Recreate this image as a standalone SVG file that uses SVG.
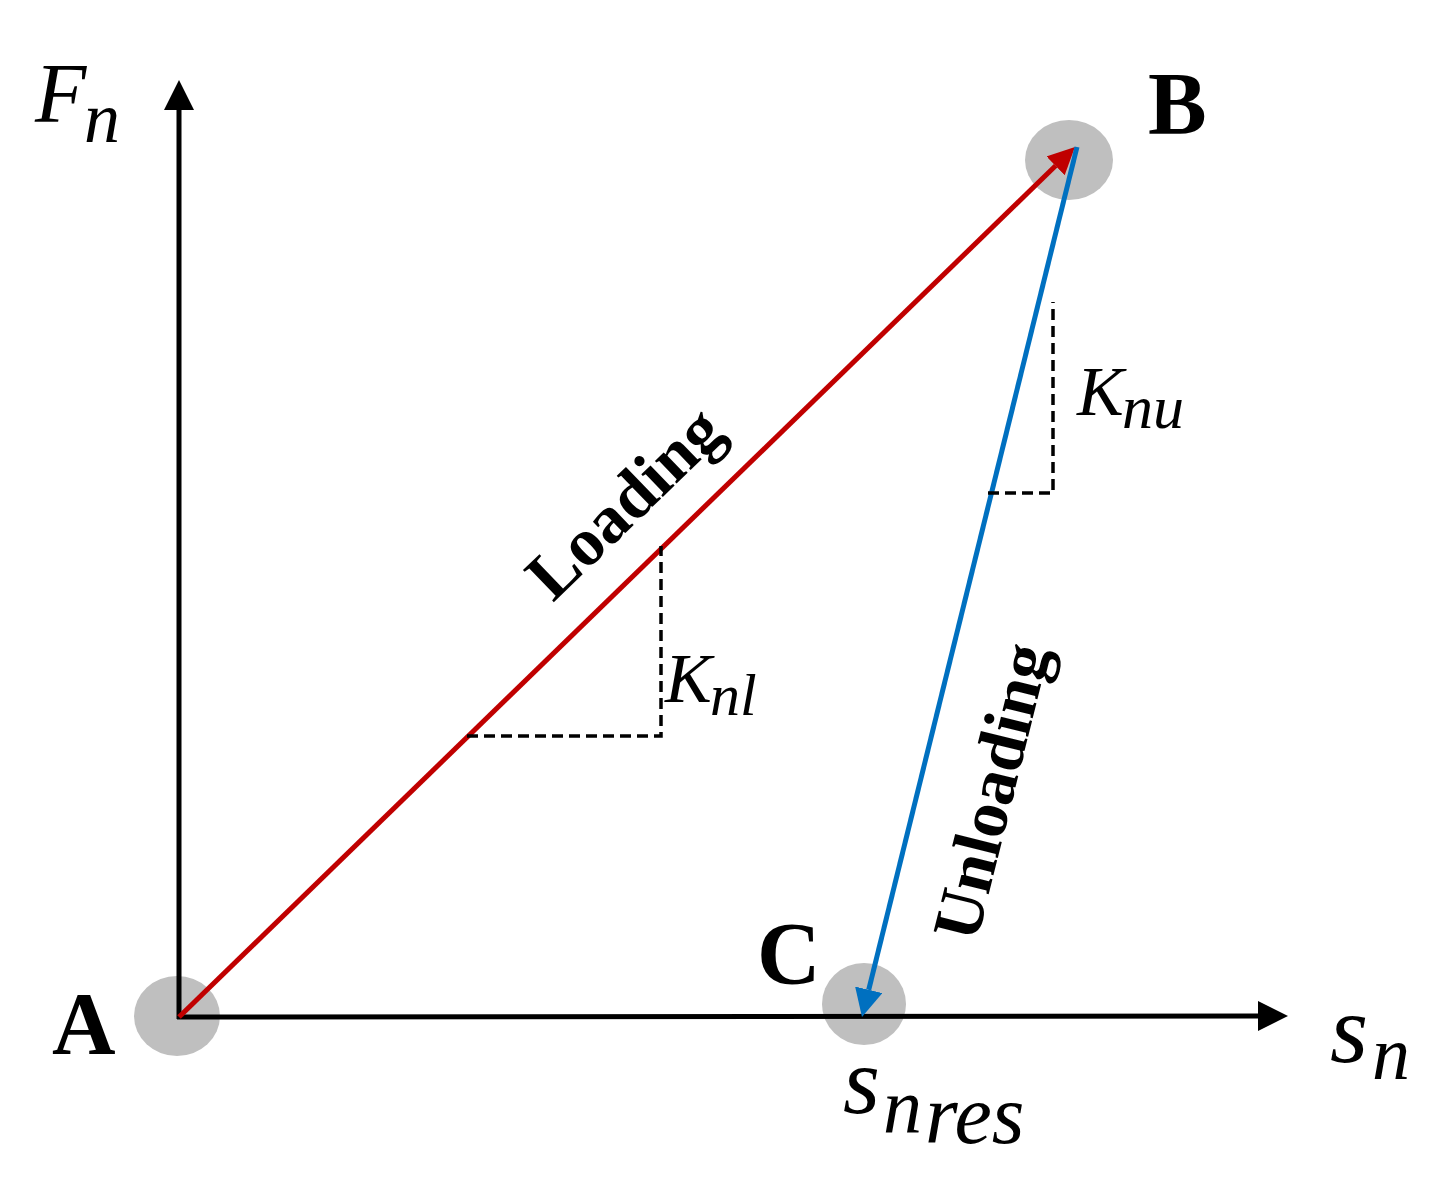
<svg xmlns="http://www.w3.org/2000/svg" width="1437" height="1180" viewBox="0 0 1437 1180">
<style>
.pt{fill:#bfbfbf}
.lbl{font-family:"Liberation Serif",serif;font-weight:bold;font-size:88px;fill:#000}
.math{font-family:"Liberation Serif",serif;font-style:italic;fill:#000}
.rot{font-family:"Liberation Serif",serif;font-weight:bold;font-size:68px;fill:#000}
.axis{stroke:#000;stroke-width:5;fill:none}
.dash{stroke:#000;stroke-width:3.5;stroke-dasharray:11 6;fill:none}
</style>
<defs>
<marker id="ah" markerUnits="userSpaceOnUse" markerWidth="30" markerHeight="30" refX="0" refY="15" orient="auto"><path d="M0,0 L30,15 L0,30 z" fill="#000"/></marker>
<marker id="ahr" markerUnits="userSpaceOnUse" markerWidth="28" markerHeight="28" refX="0" refY="13" orient="auto"><path d="M0,0 L27,13 L0,26 z" fill="#c00000"/></marker>
<marker id="ahb" markerUnits="userSpaceOnUse" markerWidth="30" markerHeight="30" refX="0" refY="14" orient="auto"><path d="M0,0 L28,14 L0,28 z" fill="#0070c0"/></marker>
</defs>
<rect width="1437" height="1180" fill="#fff"/>
<g id="nodeA"><ellipse class="pt" cx="177" cy="1016" rx="43" ry="40"/><text class="lbl" x="52" y="1053">A</text></g>
<g id="nodeB"><ellipse class="pt" cx="1069" cy="160" rx="44" ry="40"/><text class="lbl" x="1148" y="133">B</text></g>
<g id="nodeC"><ellipse class="pt" cx="864" cy="1004" rx="42" ry="41"/><text class="lbl" x="757" y="983">C</text></g>
<g id="connectors">
<line class="axis" x1="179" y1="1019" x2="179" y2="110" marker-end="url(#ah)"/>
<line class="axis" x1="177" y1="1017" x2="1258" y2="1016" marker-end="url(#ah)"/>
<line x1="179" y1="1017" x2="1055.6" y2="165.8" stroke="#c00000" stroke-width="5" marker-end="url(#ahr)"/>
<line x1="1077" y1="147" x2="868.7" y2="989.8" stroke="#0070c0" stroke-width="5" marker-end="url(#ahb)"/>
<polyline class="dash" points="467,736 661,736 661,546"/>
<polyline class="dash" points="988,493 1053,493 1053,302"/>
</g>
<g id="labels">
<text class="math" x="35" y="122" font-size="84">F</text>
<text class="math" x="84" y="142" font-size="72">n</text>
<text class="math" x="1330" y="1062" font-size="98">s</text>
<text class="math" x="1372" y="1079" font-size="76">n</text>
<text class="math" x="843" y="1113" font-size="95">s</text>
<text class="math" x="883" y="1133" font-size="78">n</text>
<text class="math" x="925" y="1143" font-size="84">res</text>
<text class="math" x="1077" y="415" font-size="70">K</text>
<text class="math" x="1122" y="428" font-size="62">nu</text>
<text class="math" x="665" y="702" font-size="70">K</text>
<text class="math" x="710" y="715" font-size="60">nl</text>
<text class="rot" x="0" y="0" text-anchor="middle" transform="translate(640,519) rotate(-44)">Loading</text>
<text class="rot" x="0" y="0" text-anchor="middle" transform="translate(1013,797) rotate(-76)">Unloading</text>
</g>
</svg>
